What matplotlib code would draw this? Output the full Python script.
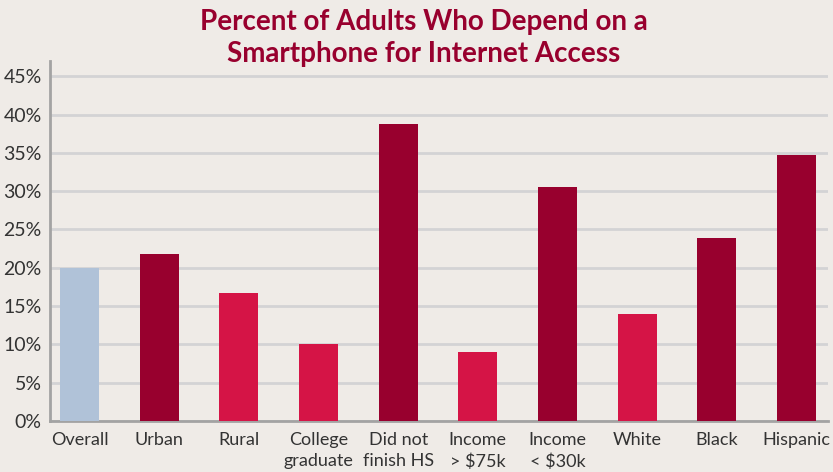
import matplotlib
matplotlib.use("Agg")
import matplotlib.pyplot as plt
from matplotlib.ticker import FuncFormatter, MultipleLocator

# share of adults relying on a smartphone for internet access
categories = ["Overall", "Urban", "Rural", "College\ngraduate", "Did not\nfinish HS",
              "Income\n> $75k", "Income\n< $30k", "White", "Black", "Hispanic"]
values = [20.0, 21.8, 16.7, 10.0, 38.7, 9.0, 30.5, 14.0, 23.9, 34.7]
groups = ["base", "high", "low", "low", "high", "low", "high", "low", "high", "high"]
title_lines = ["Percent of Adults Who Depend on a", "Smartphone for Internet Access"]

palette = {"base": "#B0C2D8", "high": "#98002E", "low": "#D51446"}
bg = "#EFEBE7"

plt.rcParams["font.family"] = ["Lato", "DejaVu Sans"]

fig = plt.figure(figsize=(8.33, 4.72), dpi=100, facecolor=bg)
ax = fig.add_axes([0.060, 0.108, 0.934, 0.763], facecolor=bg)

x = range(len(categories))
ax.bar(x, values, width=0.49, color=[palette[g] for g in groups], zorder=3)

ax.set_xlim(-0.37, len(categories) - 0.605)
ax.set_ylim(0, 47)
ax.yaxis.set_major_locator(MultipleLocator(5))
ax.yaxis.set_major_formatter(FuncFormatter(lambda v, p: f"{v:.0f}%" if v <= 45 else ""))
ax.grid(axis="y", color="#D3D3D5", linewidth=2, zorder=0)

ax.set_xticks(list(x))
ax.set_xticklabels(categories, fontsize=13, color="#333333", linespacing=1.4)
ax.tick_params(axis="x", length=0, pad=8)
ax.tick_params(axis="y", length=0, labelsize=14, labelcolor="#333333", pad=6)

for side in ("top", "right"):
    ax.spines[side].set_visible(False)
for side in ("left", "bottom"):
    ax.spines[side].set_color("#A3A3A3")
    ax.spines[side].set_linewidth(2)

# two-line title, one baseline per line
for line, base_px in zip(title_lines, (30, 62)):
    fig.text(0.509, 1 - base_px / 472, line, ha="center", va="baseline",
             fontsize=20, fontweight="bold", color="#98002E")

fig.savefig("out.png", dpi=100, facecolor=bg)
